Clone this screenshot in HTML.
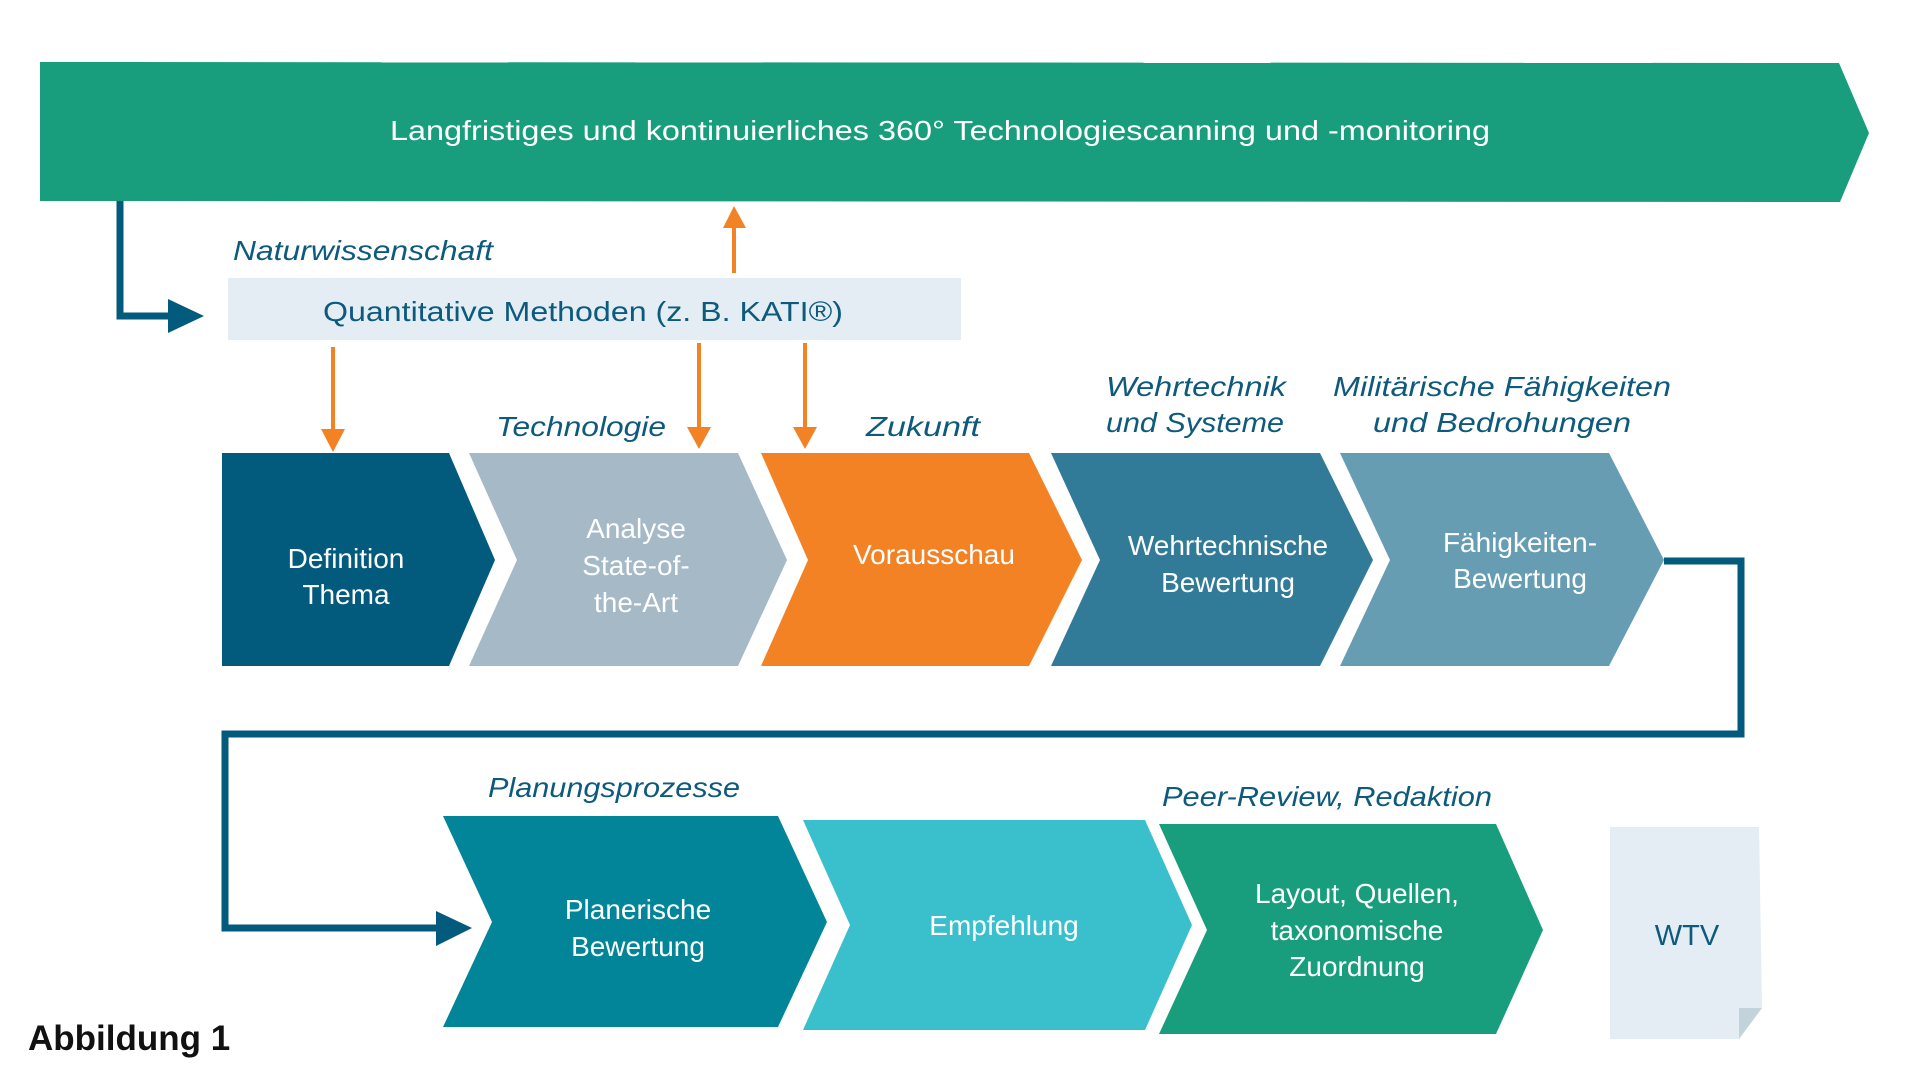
<!DOCTYPE html>
<html><head><meta charset="utf-8"><style>
html,body{margin:0;padding:0;background:#fff;}
svg{display:block;}
text{font-family:"Liberation Sans",sans-serif;}
.w{fill:#fff;font-size:28px;text-anchor:middle;}
.l{fill:#0d5a7d;font-size:28px;font-style:italic;}
</style></head><body>
<svg width="1920" height="1080" viewBox="0 0 1920 1080" xmlns="http://www.w3.org/2000/svg">
<polygon points="40,62 1839,63 1869,133 1840,202 40,201" fill="#199e7d"/>
<text x="940" y="140" class="w" font-size="28" textLength="1100" lengthAdjust="spacingAndGlyphs">Langfristiges und kontinuierliches 360° Technologiescanning und -monitoring</text>
<polyline points="120,201 120,316 172,316" fill="none" stroke="#025a7c" stroke-width="7"/>
<polygon points="168,299 204,316 168,333" fill="#025a7c"/>
<text x="233" y="260" class="l" textLength="260" lengthAdjust="spacingAndGlyphs">Naturwissenschaft</text>
<rect x="228" y="278" width="733" height="62" fill="#e3edf3"/>
<text x="583" y="321" font-size="28" fill="#0d5a7d" text-anchor="middle" textLength="520" lengthAdjust="spacingAndGlyphs">Quantitative Methoden (z. B. KATI®)</text>
<g fill="#f28224" stroke="#f28224">
<line x1="734" y1="273" x2="734" y2="226" stroke-width="4"/>
<polygon points="723,228 734,206 746,228" stroke="none"/>
<line x1="333" y1="347" x2="333" y2="432" stroke-width="4"/>
<polygon points="321,429 333,452 345,429" stroke="none"/>
<line x1="699" y1="343" x2="699" y2="430" stroke-width="4"/>
<polygon points="687,427 699,449 711,427" stroke="none"/>
<line x1="805" y1="343" x2="805" y2="430" stroke-width="4"/>
<polygon points="793,427 805,449 817,427" stroke="none"/>
</g>
<text x="496" y="436" class="l" textLength="170" lengthAdjust="spacingAndGlyphs">Technologie</text>
<text x="866" y="436" class="l" textLength="114" lengthAdjust="spacingAndGlyphs">Zukunft</text>
<text x="1106" y="396" class="l" textLength="180" lengthAdjust="spacingAndGlyphs">Wehrtechnik</text>
<text x="1106" y="432" class="l" textLength="178" lengthAdjust="spacingAndGlyphs">und Systeme</text>
<text x="1502" y="396" class="l" text-anchor="middle" textLength="338" lengthAdjust="spacingAndGlyphs">Militärische Fähigkeiten</text>
<text x="1502" y="432" class="l" text-anchor="middle" textLength="258" lengthAdjust="spacingAndGlyphs">und Bedrohungen</text>
<polygon points="222,453 449,453 495,560 449,666 222,666" fill="#025a7c"/>
<polygon points="469,453 738,453 787,560 738,666 469,666 517,560" fill="#a5b9c7"/>
<polygon points="761,453 1029,453 1082,560 1029,666 761,666 808,560" fill="#f28224"/>
<polygon points="1051,453 1320,453 1373,560 1320,666 1051,666 1100,560" fill="#327b98"/>
<polygon points="1340,453 1609,453 1664,560 1609,666 1340,666 1390,560" fill="#679db2"/>
<text class="w" x="346" y="568">Definition</text>
<text class="w" x="346" y="604">Thema</text>
<text class="w" x="636" y="538">Analyse</text>
<text class="w" x="636" y="575">State-of-</text>
<text class="w" x="636" y="612">the-Art</text>
<text class="w" x="934" y="564">Vorausschau</text>
<text class="w" x="1228" y="555">Wehrtechnische</text>
<text class="w" x="1228" y="592">Bewertung</text>
<text class="w" x="1520" y="552">Fähigkeiten-</text>
<text class="w" x="1520" y="588">Bewertung</text>
<polyline points="1664,561 1741,561 1741,734 225,734 225,928 440,928" fill="none" stroke="#025a7c" stroke-width="7"/>
<polygon points="436,911 472,928 436,946" fill="#025a7c"/>
<text x="488" y="797" class="l" textLength="252" lengthAdjust="spacingAndGlyphs">Planungsprozesse</text>
<text x="1162" y="806" class="l" textLength="330" lengthAdjust="spacingAndGlyphs">Peer-Review, Redaktion</text>
<polygon points="443,816 778,816 827,922 778,1027 443,1027 492,922" fill="#038599"/>
<polygon points="803,820 1145,820 1192,925 1145,1030 803,1030 850,925" fill="#3ac0cc"/>
<polygon points="1159,824 1496,824 1543,930 1496,1034 1159,1034 1207,930" fill="#199e7d"/>
<text class="w" x="1357" y="903">Layout, Quellen,</text>
<text class="w" x="1357" y="940">taxonomische</text>
<text class="w" x="1357" y="976">Zuordnung</text>
<text class="w" x="638" y="919">Planerische</text>
<text class="w" x="638" y="956">Bewertung</text>
<text class="w" x="1004" y="935">Empfehlung</text>
<polygon points="1610,827 1759,827 1762,1008 1739,1039 1610,1039" fill="#e3edf3"/>
<polygon points="1739,1008 1762,1008 1739,1039" fill="#c3d3dc"/>
<text x="1687" y="945" font-size="29" fill="#0d5a7d" text-anchor="middle">WTV</text>
<text x="28" y="1050" font-size="35" font-weight="bold" fill="#111">Abbildung 1</text>
</svg>
</body></html>
